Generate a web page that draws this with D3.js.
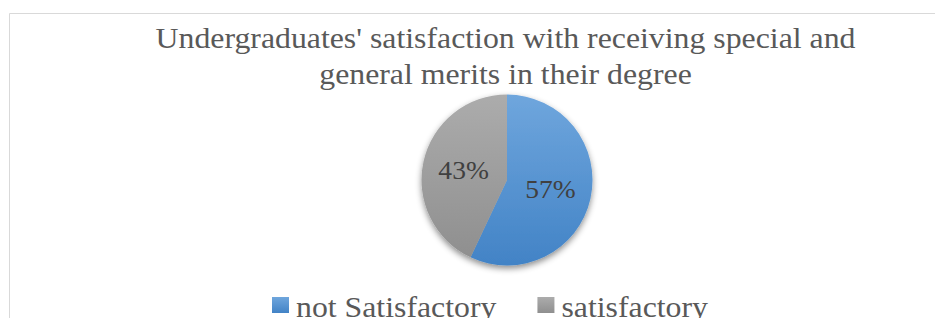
<!DOCTYPE html>
<html>
<head>
<meta charset="utf-8">
<script src="https://d3js.org/d3.v7.min.js"></script>
<style>
body{margin:0;background:#fff;}
svg{display:block;}
</style>
</head>
<body>
<svg width="935" height="318"></svg>
<script>
var kategorie = ["not Satisfactory", "satisfactory"];
var wartosci = [57, 43];
var tytul = ["Undergraduates' satisfaction with receiving special and", "general merits in their degree"];

var svg = d3.select("svg");
var srodekX = 507;
var srodekY = 180;
var promien = 85.5;
var czcionka = "'Liberation Serif', 'Times New Roman', serif";
var rozciag = 1.06;//tekst w oryginale jest lekko rozciagniety w poziomie

var defs = svg.append("defs");
function gradient(id, gora, dol){
	var g = defs.append("linearGradient")
		.attr("id", id)
		.attr("x1", 0).attr("y1", 0)
		.attr("x2", 0).attr("y2", 1);
	g.append("stop").attr("offset", "0%").attr("stop-color", gora);
	g.append("stop").attr("offset", "100%").attr("stop-color", dol);
}
gradient("niebieski", "#6fa6dd", "#4283c6");
gradient("szary", "#acacac", "#8f8f8f");

var cien = defs.append("filter")
	.attr("id", "cien")
	.attr("x", "-30%").attr("y", "-30%")
	.attr("width", "160%").attr("height", "160%");
cien.append("feDropShadow")
	.attr("dx", 0)
	.attr("dy", 3)
	.attr("stdDeviation", 3)
	.attr("flood-color", "#000")
	.attr("flood-opacity", 0.45);

function napis(x, y, tekst, rozmiar, kolor, kotwica){
	return svg.append("text")
		.attr("transform", "translate(" + x + "," + y + ") scale(" + rozciag + ",1)")
		.attr("text-anchor", kotwica)
		.attr("font-family", czcionka)
		.attr("font-size", rozmiar)
		.attr("fill", kolor)
		.text(tekst);
}

// ramka wykresu
svg.append("path")
	.attr("d", "M9.5,318 V13.5 H935")
	.style("fill", "none")
	.style("stroke", "#d9d9d9")
	.style("stroke-width", 1);

// tytul
for(let i=0; i<tytul.length; i++){
	napis(505.5, 47.5 + i*36, tytul[i], 30, "#595959", "middle");
}

var kolory = ["url(#niebieski)", "url(#szary)"];

var pie = d3.pie().sort(null).value(function(d){ return d; });
var luki = pie(wartosci);
var arc = d3.arc().innerRadius(0).outerRadius(promien);
var arcEtykieta = d3.arc().innerRadius(promien*0.52).outerRadius(promien*0.52);

var kolo = svg.append("g")
	.attr("transform", "translate(" + srodekX + "," + srodekY + ")");

kolo.append("g")
	.attr("filter", "url(#cien)")
	.selectAll("path")
	.data(luki)
	.enter().append("path")
	.attr("d", arc)
	.style("fill", function(d, i){ return kolory[i]; });

for(let i=0; i<luki.length; i++){
	var c = arcEtykieta.centroid(luki[i]);
	napis(srodekX + c[0], srodekY + c[1] + 8.5, luki[i].data + "%", 26, "#404040", "middle");
}

// legenda
var legX = 272;
for(let i=0; i<kategorie.length; i++){
	svg.append("rect")
		.attr("x", legX)
		.attr("y", 297)
		.attr("width", 17)
		.attr("height", 16)
		.style("fill", kolory[i]);
	var t = napis(legX + 24, 317, kategorie[i], 30, "#595959", "start");
	legX += 24 + t.node().getComputedTextLength()*rozciag + 41;
}
</script>
</body>
</html>
